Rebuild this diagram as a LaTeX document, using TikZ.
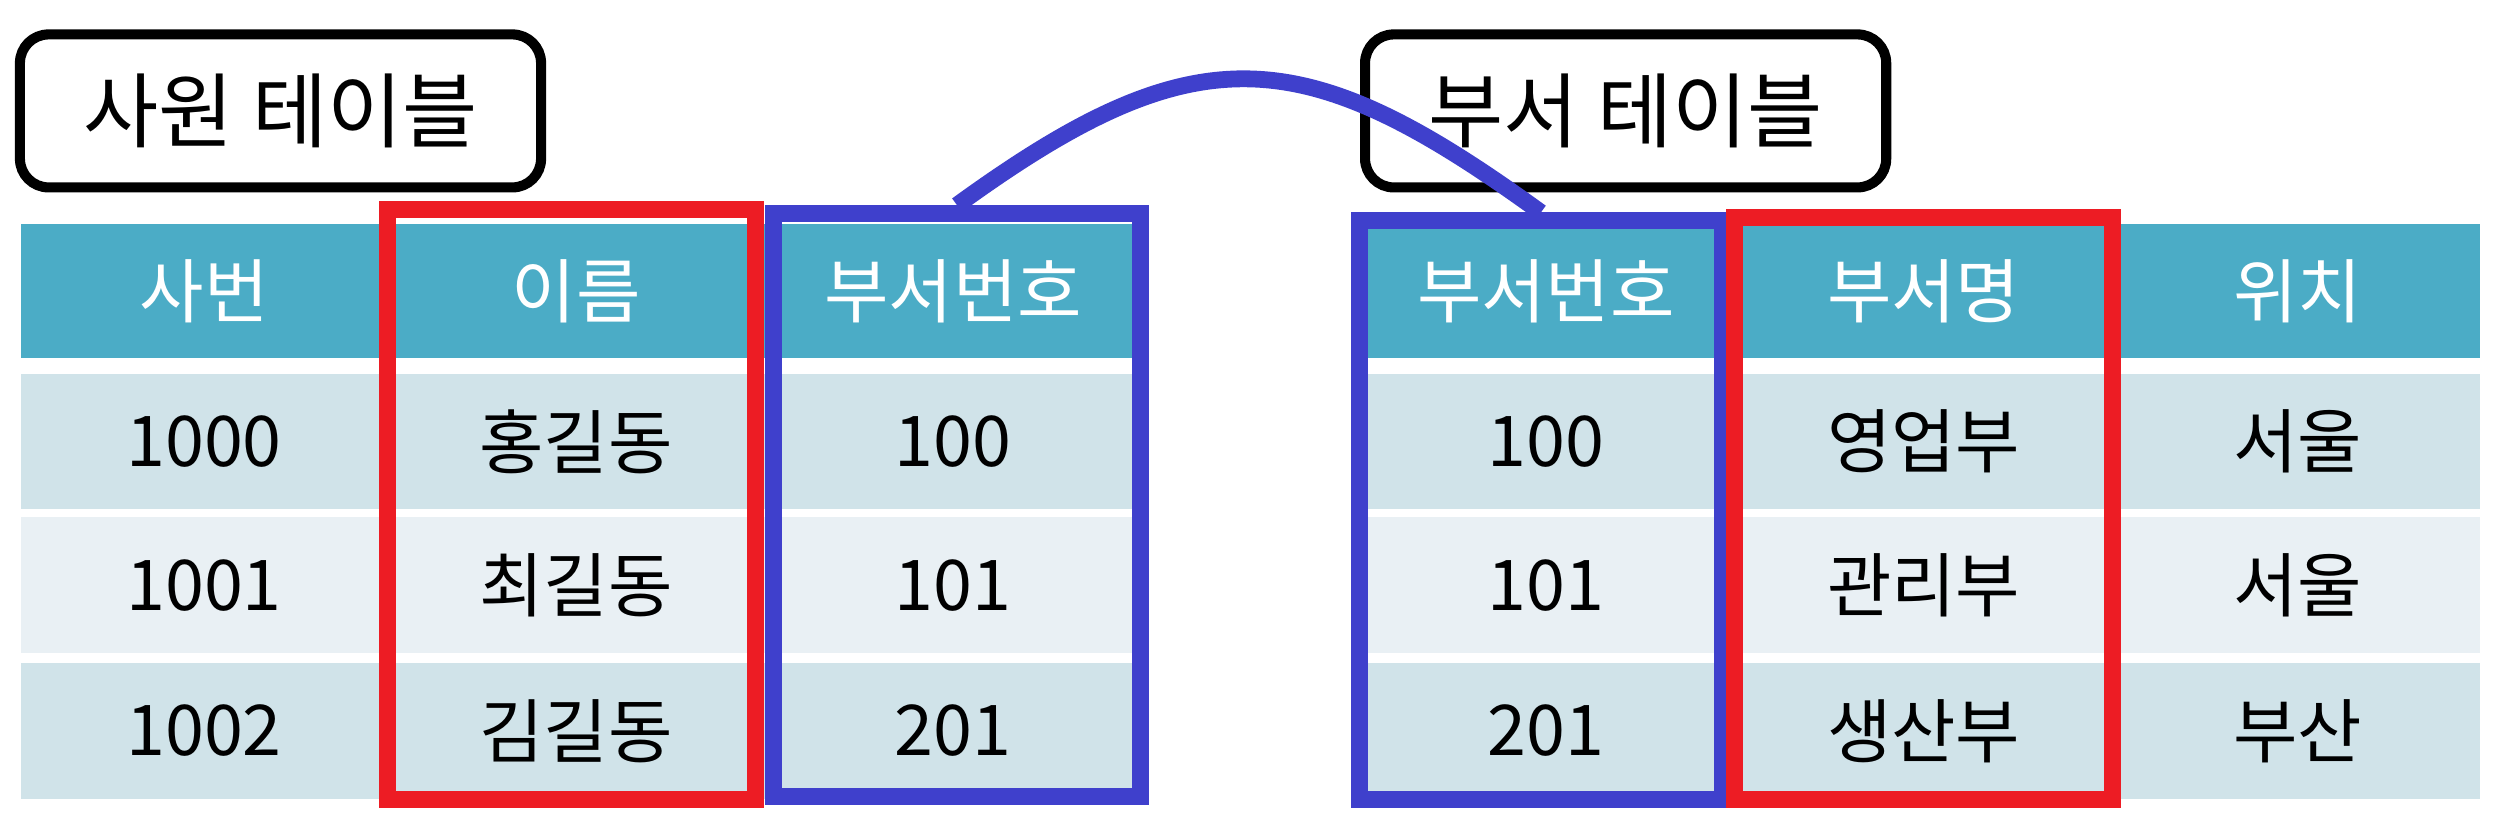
\documentclass[tikz,border=0pt]{standalone}
\usepackage{fontspec}
\setmainfont{Noto Sans CJK KR}
\definecolor{hdr}{RGB}{75,172,198}
\definecolor{rowdark}{RGB}{208,227,233}
\definecolor{rowlight}{RGB}{233,240,244}
\definecolor{redline}{RGB}{237,28,36}
\definecolor{blueline}{RGB}{63,64,204}

\begin{document}
\begin{tikzpicture}
  \tikzstyle{title} = [rectangle, rounded corners=0.18cm, draw, line width=1.8pt, minimum width=3.27cm, minimum height=0.96cm, font=\fontsize{14.6}{16}\selectfont]
  \tikzstyle{head} = [rectangle, fill=hdr, text=white, inner sep=0, minimum height=0.84cm, font=\fontsize{12.5}{14}\selectfont]
  \tikzstyle{dark} = [rectangle, fill=rowdark, inner sep=0, minimum height=0.85cm, font=\fontsize{12.5}{14}\selectfont]
  \tikzstyle{light} = [rectangle, fill=rowlight, inner sep=0, minimum height=0.85cm, font=\fontsize{12.5}{14}\selectfont]
  \tikzstyle{pick} = [rectangle, draw=redline, line width=3pt, inner sep=0]
  \tikzstyle{key} = [rectangle, draw=blueline, line width=3pt, inner sep=0]
  \tikzstyle{link} = [blueline, line width=3pt]
  \useasboundingbox (0,0) rectangle (15.68,5.176);
  \node[head, minimum width=2.30cm] at (1.28,3.35) (EH1) {사번};
  \node[head, minimum width=2.37cm] at (3.615,3.35) (EH2) {이름};
  \node[head, minimum width=2.36cm] at (5.98,3.35) (EH3) {부서번호};
  \node[dark, minimum width=2.30cm] at (1.28,2.405) (E11) {1000};
  \node[dark, minimum width=2.37cm] at (3.615,2.405) (E12) {홍길동};
  \node[dark, minimum width=2.36cm] at (5.98,2.405) (E13) {100};
  \node[light, minimum width=2.30cm] at (1.28,1.505) (E21) {1001};
  \node[light, minimum width=2.37cm] at (3.615,1.505) (E22) {최길동};
  \node[light, minimum width=2.36cm] at (5.98,1.505) (E23) {101};
  \node[dark, minimum width=2.30cm] at (1.28,0.59) (E31) {1002};
  \node[dark, minimum width=2.37cm] at (3.615,0.59) (E32) {김길동};
  \node[dark, minimum width=2.36cm] at (5.98,0.59) (E33) {201};
  \node[head, minimum width=2.34cm] at (9.70,3.35) (DH1) {부서번호};
  \node[head, minimum width=2.40cm] at (12.07,3.35) (DH2) {부서명};
  \node[head, minimum width=2.29cm] at (14.415,3.35) (DH3) {위치};
  \node[dark, minimum width=2.34cm] at (9.70,2.405) (D11) {100};
  \node[dark, minimum width=2.40cm] at (12.07,2.405) (D12) {영업부};
  \node[dark, minimum width=2.29cm] at (14.415,2.405) (D13) {서울};
  \node[light, minimum width=2.34cm] at (9.70,1.505) (D21) {101};
  \node[light, minimum width=2.40cm] at (12.07,1.505) (D22) {관리부};
  \node[light, minimum width=2.29cm] at (14.415,1.505) (D23) {서울};
  \node[dark, minimum width=2.34cm] at (9.70,0.59) (D31) {201};
  \node[dark, minimum width=2.40cm] at (12.07,0.59) (D32) {생산부};
  \node[dark, minimum width=2.29cm] at (14.415,0.59) (D33) {부산};
  \node[pick, minimum width=2.31cm, minimum height=3.70cm] at (3.587,2.011) (RL) {};
  \node[key, minimum width=2.30cm, minimum height=3.655cm] at (6.005,2.008) (BL) {};
  \node[key, minimum width=2.275cm, minimum height=3.63cm] at (9.668,1.975) (BR) {};
  \node[pick, minimum width=2.37cm, minimum height=3.65cm] at (12.07,1.985) (RR) {};
  \node[title] at (1.76,4.48) (TE) {사원 테이블};
  \node[title] at (10.20,4.48) (TD) {부서 테이블};
  \draw[link] (BL.north) .. controls +(36:1.85) and +(144:1.85) .. (BR.north);
\end{tikzpicture}
\end{document}
